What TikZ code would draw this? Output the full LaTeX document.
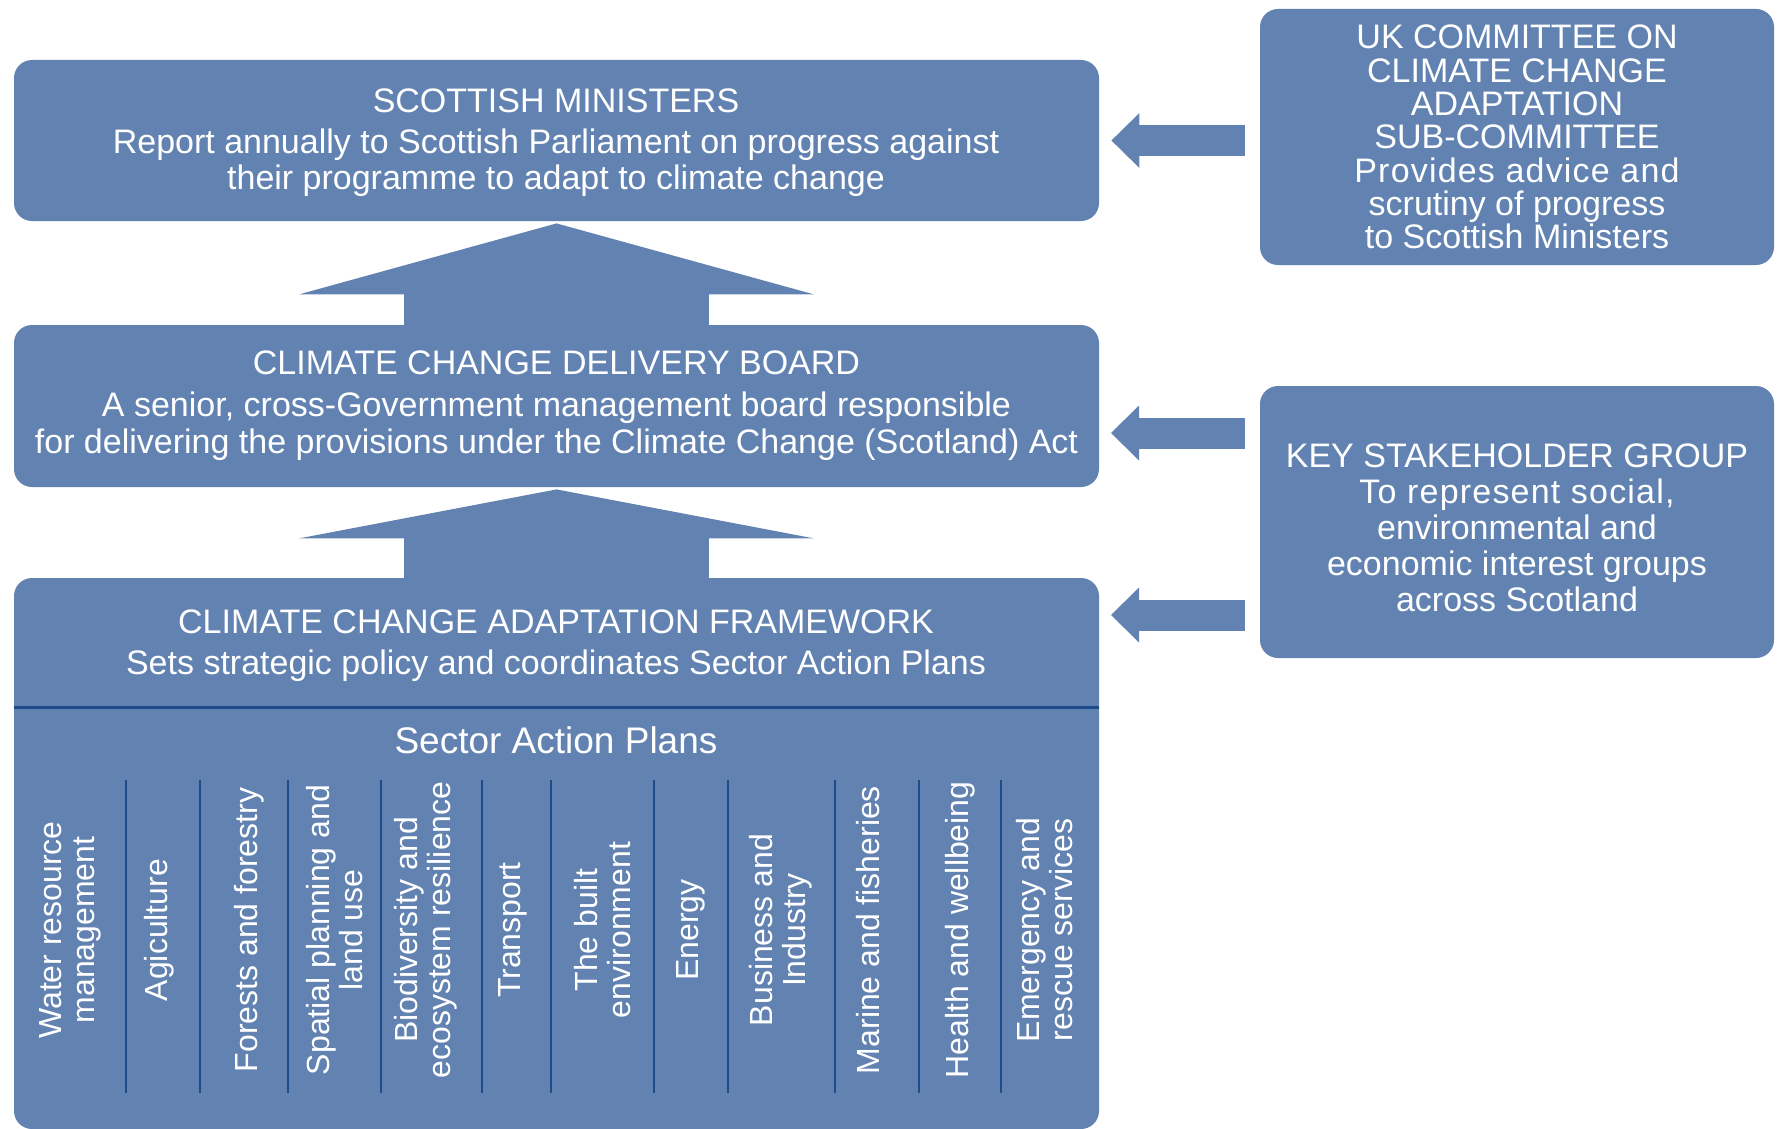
\documentclass[tikz,border=0pt]{standalone}
\usepackage{fontspec}
\setmainfont{Liberation Sans}
\newfontfamily\widefont[LetterSpace=3.5]{Liberation Sans}
\usetikzlibrary{arrows.meta}
\definecolor{boxblue}{RGB}{98,131,178}
\definecolor{ruleblue}{RGB}{30,75,140}

\begin{document}
\begin{tikzpicture}[x=0.5pt, y=-0.5pt,
    panel/.style = {shape=rectangle, rounded corners=9pt, fill=boxblue, inner sep=0pt,
                    text=white, align=center, font=\fontsize{17}{18.5}\selectfont},
    words/.style = {text=white, align=center, inner sep=0pt, font=\fontsize{17}{18.5}\selectfont},
    sector/.style = {words, rotate=90, font=\fontsize{16}{16.5}\selectfont},
    upright/.style = {draw=boxblue, line width=152.5pt,
                      -{Triangle[length=#1, width=257.5pt, line width=0pt]}},
    sidearrow/.style = {draw=boxblue, line width=15.5pt,
                        -{Triangle[length=14pt, width=27.5pt, line width=0pt]}},
    divider/.style = {draw=ruleblue, line width=1pt}]

\useasboundingbox (0,0) rectangle (1777,1129);

% left column
\node[panel, minimum width=542.5pt, minimum height=80.5pt] (sm) at (556.5,140.5) {};
\node[words, font=\fontsize{17}{18}\selectfont] (smtext) at (556,142.5)
  {SCOTTISH MINISTERS\\[2.5pt]
   Report annually to Scottish Parliament on progress against\\
   their programme to adapt to climate change};
\node[panel, minimum width=542.5pt, minimum height=81pt] (db) at (556.5,406)
  {CLIMATE CHANGE DELIVERY BOARD\\[2.5pt]
   A senior, cross-Government management board responsible\\
   for delivering the provisions under the Climate Change (Scotland) Act};
\node[panel, minimum width=542.5pt, minimum height=275.5pt] (fw) at (556.5,853.5) {};

\node[words] (fwtitle) at (556,646)
  {CLIMATE CHANGE ADAPTATION FRAMEWORK\\[2pt]
   Sets strategic policy and coordinates Sector Action Plans};
\coordinate (split) at (556.5,707);
\draw[divider, line width=1.5pt] (fw.west |- split) -- (fw.east |- split);
\node[words, font=\fontsize{18.5}{19}\selectfont] (plans) at (556,740) {Sector Action Plans};

\foreach \x in {126,200,288,381,482,551,654,728,835,919,1001}
  \draw[divider] (\x,780) -- (\x,1093);

\foreach \x/\name [count=\i] in {70/{Water resource\\management}, 159/Agiculture,
    249/Forests and forestry, 335/{Spatial planning and\\land use},
    426/{Biodiversity and\\ecosystem resilience}, 513/Transport,
    603/{The built\\environment}, 691/Energy, 781/{Business and\\Industry},
    868/Marine and fisheries, 960/Health and wellbeing, 1045/{Emergency and\\rescue services}}
  \node[sector] (sector\i) at (\x,930) {\name};

% right column
\node[panel, minimum width=257pt, minimum height=128pt,
      font=\fontsize{17}{16.65}\selectfont] (uk) at (1517,137)
  {UK COMMITTEE ON\\ CLIMATE CHANGE\\ ADAPTATION\\ SUB-COMMITTEE\\
   \widefont Provides advice and\\ scrutiny of progress\\ to Scottish Ministers};
\node[panel, minimum width=257pt, minimum height=136pt] (ksg) at (1517,522) {};
\node[words, font=\fontsize{17}{18}\selectfont] (ksgtext) at (1517,528)
  {KEY STAKEHOLDER GROUP\\ \widefont To represent social,\\ environmental and\\
   economic interest groups\\ across Scotland};

% arrows
\draw[upright=35.5pt] (db.north) -- ([yshift=-1pt]sm.south);
\draw[upright=24.5pt] (fw.north) -- ([yshift=-1pt]db.south);

\coordinate (ukout) at ([xshift=-7.5pt]uk.west);
\coordinate (ksgout) at ([xshift=-7.5pt]ksg.west);
\coordinate (t1) at ([xshift=6pt]sm.east);
\coordinate (t2) at (1111,433);
\coordinate (t3) at (1111,615);
\draw[sidearrow] (ukout |- t1) -- (t1);
\draw[sidearrow] (ksgout |- t2) -- (t2);
\draw[sidearrow] (ksgout |- t3) -- (t3);
\end{tikzpicture}
\end{document}
